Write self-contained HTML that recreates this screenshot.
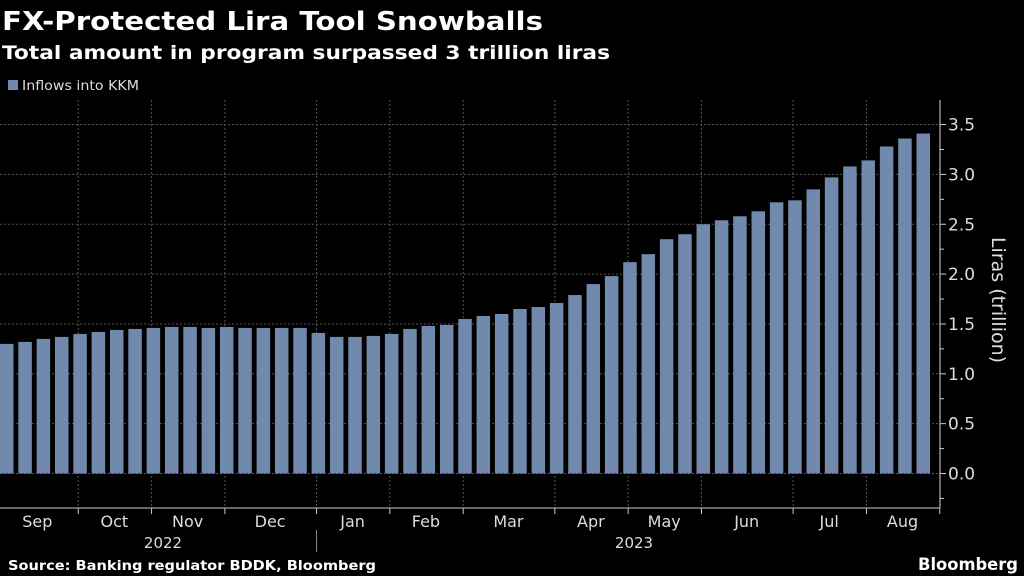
<!DOCTYPE html>
<html><head><meta charset="utf-8"><style>
html,body{margin:0;padding:0;background:#000;}
svg{display:block;font-family:"DejaVu Sans","Liberation Sans",sans-serif;}
</style></head><body>
<svg id="chart" width="1024" height="576" viewBox="0 0 1024 576" xmlns="http://www.w3.org/2000/svg">
<rect width="1024" height="576" fill="#000"/>
<text x="2" y="30" fill="#fff" font-size="26" font-weight="bold" textLength="541" lengthAdjust="spacingAndGlyphs">FX-Protected Lira Tool Snowballs</text>
<text x="2" y="59" fill="#fff" font-size="19" font-weight="bold" textLength="608" lengthAdjust="spacingAndGlyphs">Total amount in program surpassed 3 trillion liras</text>
<rect x="8" y="80" width="10" height="10" fill="#7189ad"/>
<text x="22" y="90" fill="#ddd" font-size="13" textLength="117" lengthAdjust="spacingAndGlyphs">Inflows into KKM</text>
<g id="grid"></g>
<g id="bars"></g>
<g id="axes"></g>
<text transform="translate(992,300) rotate(90)" text-anchor="middle" fill="#ddd" font-size="19">Liras (trillion)</text>
<text x="8" y="570" fill="#fff" font-size="13" font-weight="bold" textLength="368" lengthAdjust="spacingAndGlyphs">Source: Banking regulator BDDK, Bloomberg</text>
<text x="1018" y="570" text-anchor="end" fill="#fff" font-size="17" font-weight="bold" textLength="100" lengthAdjust="spacingAndGlyphs">Bloomberg</text>
</svg>
<script>
const values = [1.30,1.32,1.35,1.37,1.40,1.42,1.44,1.45,1.46,1.47,1.47,1.46,1.47,1.46,1.46,1.46,1.46,1.41,1.37,1.37,1.38,1.40,1.45,1.48,1.49,1.55,1.58,1.60,1.65,1.67,1.71,1.79,1.90,1.98,2.12,2.20,2.35,2.40,2.50,2.54,2.58,2.63,2.72,2.74,2.85,2.97,3.08,3.14,3.28,3.36,3.41];
const yTicks = [0,0.5,1,1.5,2,2.5,3,3.5];
const yTickLabels = ["0.0","0.5","1.0","1.5","2.0","2.5","3.0","3.5"];
const monthLabels = ["Sep","Oct","Nov","Dec","Jan","Feb","Mar","Apr","May","Jun","Jul","Aug"];
const monthStartIndex = [0,4.4,8.4,12.4,17.4,21.4,25.4,30.4,34.4,38.4,43.4,47.4,51.4];
const yearLabels = ["2022","2023"];

const NS="http://www.w3.org/2000/svg";
const pitch=18.33, barW=13.5, x0=0;
const xScale = i => x0 + i*pitch;
const yScale = v => 473.5 - v*99.7;
function mk(tag, attrs, parent){const e=document.createElementNS(NS,tag);for(const k in attrs)e.setAttribute(k,attrs[k]);parent.appendChild(e);return e;}
const grid=document.getElementById('grid'), bars=document.getElementById('bars'), axes=document.getElementById('axes');

yTicks.forEach((t,i)=>{
  const y=yScale(t);
  const l=mk('line',{x1:0,x2:940,y1:y,y2:y,stroke:'#555','stroke-dasharray':'2,2','stroke-width':1},grid);
  
  
  const tk=mk('line',{x1:940,x2:946,y1:y,y2:y,stroke:'#ccc'},axes);
  
  
  const tx=mk('text',{x:948,y:y+6,fill:'#ddd','font-size':17},axes);
  tx.textContent=yTickLabels[i];
  
  
  if(i<yTicks.length-1){const ym=yScale(t+0.25);
    const mt=mk('line',{x1:940,x2:944,y1:ym,y2:ym,stroke:'#ccc'},axes);
    
    }
});
const ymt=yScale(-0.25);
const lowTick=mk('line',{x1:940,x2:944,y1:ymt,y2:ymt,stroke:'#ccc'},axes);



monthStartIndex.forEach((m,i)=>{
  if(i===0) return;
  const x=xScale(m)-2.4;
  const g=mk('line',{x1:x,x2:x,y1:100,y2:508,stroke:'#555','stroke-dasharray':'2,2'},grid);
  
  
  const t=mk('line',{x1:x,x2:x,y1:508,y2:514,stroke:'#ccc'},axes);
  
  
});
monthLabels.forEach((lab,i)=>{
  const cx=(xScale(monthStartIndex[i])+xScale(monthStartIndex[i+1]))/2-3;
  const t=mk('text',{x:cx,y:527,fill:'#ddd','font-size':16,'text-anchor':'middle'},axes);
  t.textContent=lab;
  
  
});

values.forEach((v,i)=>{
  const r=mk('rect',{x:xScale(i),y:yScale(v),width:barW,height:yScale(0)-yScale(v),fill:'#7189ad'},bars);
  
  
});

const xa=mk('line',{x1:0,x2:940,y1:508,y2:508,stroke:'#ccc'},axes);


const ya=mk('line',{x1:940,x2:940,y1:100,y2:508,stroke:'#ccc'},axes);


const ysep=xScale(monthStartIndex[4])-2.4;
const sep=mk('line',{x1:ysep,x2:ysep,y1:530,y2:552,stroke:'#888'},axes);


[[163,yearLabels[0]],[634,yearLabels[1]]].forEach(([x,l])=>{
  const t=mk('text',{x:x,y:548,fill:'#ddd','font-size':15,'text-anchor':'middle'},axes);
  t.textContent=l;
  
  
});
</script>
</body></html>
